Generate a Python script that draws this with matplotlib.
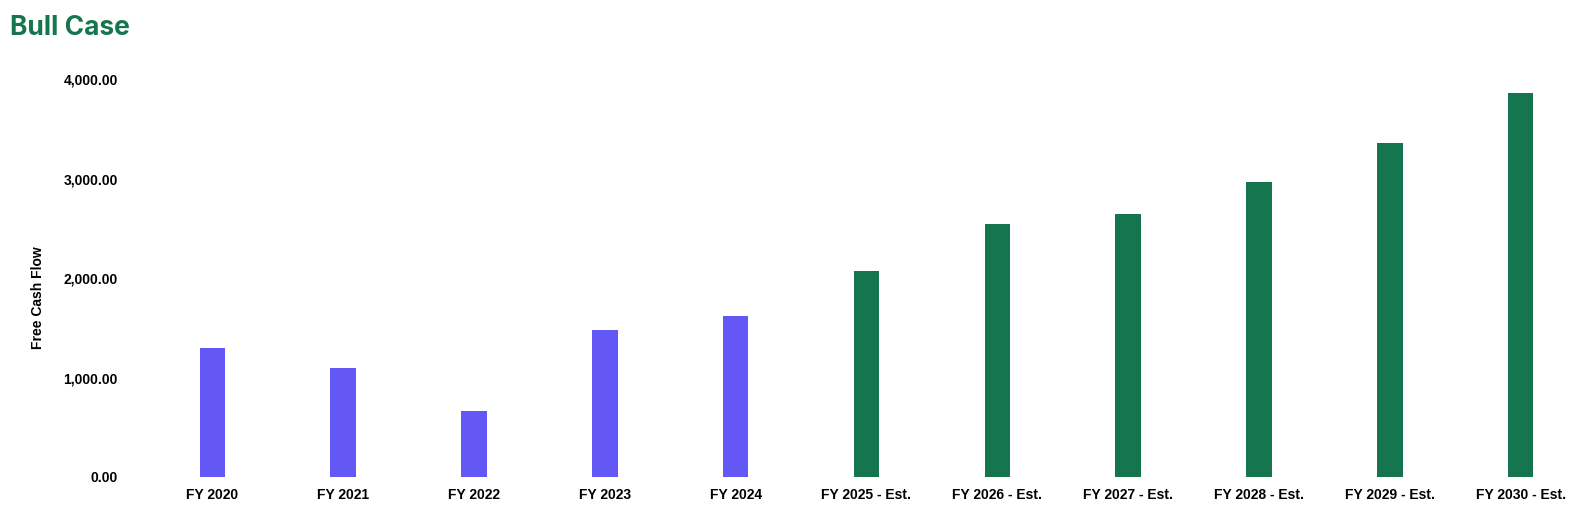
import matplotlib.pyplot as plt
from matplotlib.ticker import FuncFormatter

years = ["FY 2020", "FY 2021", "FY 2022", "FY 2023", "FY 2024",
         "FY 2025 - Est.", "FY 2026 - Est.", "FY 2027 - Est.",
         "FY 2028 - Est.", "FY 2029 - Est.", "FY 2030 - Est."]
fcf = [1295, 1094, 661, 1476, 1620, 2067, 2540, 2647, 2969, 3362, 3865]
is_estimate = [False] * 5 + [True] * 6

purple = "#6357F6"
green = "#15754F"
colors = [green if e else purple for e in is_estimate]

plt.rcParams['font.family'] = ['Liberation Sans', 'DejaVu Sans']

fig = plt.figure(figsize=(15.86, 5.17), dpi=100)
ax = fig.add_axes([147 / 1586, 40 / 517, 1 - 147 / 1586, (477 - 79.3) / 517])

x = list(range(len(years)))
ax.bar(x, fcf, width=0.195, color=colors)

ax.set_xlim(-0.5, len(years) - 0.5)
ax.set_ylim(0, 4000)
ax.set_yticks([0, 1000, 2000, 3000, 4000])
ax.yaxis.set_major_formatter(FuncFormatter(lambda v, p: f"{v:,.2f}"))
ax.set_xticks(x)
ax.set_xticklabels(years)
ax.tick_params(length=0, labelsize=10, pad=8)
ax.tick_params(axis="y", pad=21)
for lab in ax.get_xticklabels() + ax.get_yticklabels():
    lab.set_fontweight("bold")
for s in ax.spines.values():
    s.set_visible(False)

ax.set_ylabel("Free Cash Flow", fontsize=10, fontweight="bold")
ax.yaxis.set_label_coords(-0.071, 0.45)

fig.text(10 / 1586, 1 - 28 / 517, "Bull Case", fontsize=19, fontweight="bold",
         color=green, va="center", ha="left", family=["Inter", "DejaVu Sans"])

fig.savefig("out.png", dpi=100)
